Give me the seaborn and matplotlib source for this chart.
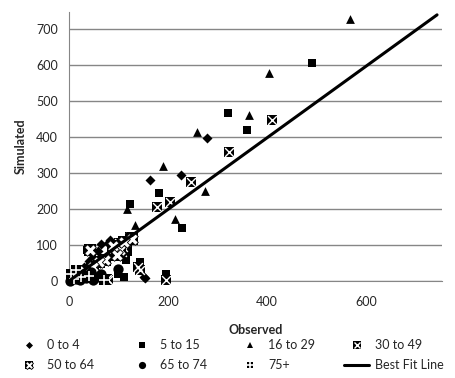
import numpy as np
import pandas as pd
import matplotlib
matplotlib.use("Agg")
import matplotlib.pyplot as plt
import seaborn as sns
from matplotlib.lines import Line2D

# observed vs simulated, by age group
obs_0_4 = [164, 226, 278, 65, 79, 83, 152, 154, 48, 58, 30, 18, 8, 92, 40]
sim_0_4 = [280, 294, 398, 102, 106, 114, 12, 8, 68, 84, 38, 22, 6, 92, 55]

obs_5_15 = [182, 123, 228, 321, 360, 490, 119, 143, 195, 111, 115, 120, 116, 36, 42, 70, 25, 98]
sim_5_15 = [245, 213, 148, 466, 419, 606, 88, 52, 19, 12, 63, 81, 58, 86, 48, 60, 15, 20]

obs_16_29 = [568, 403, 364, 258, 190, 274, 118, 215, 133, 4, 55]
sim_16_29 = [728, 577, 461, 415, 320, 251, 199, 171, 156, 14, 45]

obs_30_49 = [246, 324, 409, 177, 204, 140, 195, 76, 123, 113, 100, 106, 42, 143, 79, 62, 90, 30, 55, 110]
sim_30_49 = [275, 359, 447, 205, 219, 38, 3, 5, 123, 109, 105, 81, 86, 31, 3, 60, 70, 30, 45, 95]

obs_50_64 = [103, 127, 73, 42, 88, 60, 30, 96, 112, 20, 48]
sim_50_64 = [86, 118, 58, 86, 98, 52, 28, 72, 108, 14, 40]

obs_65_74 = [98, 2, 22, 49, 56, 35, 15, 65, 45, 28, 10, 40]
sim_65_74 = [32, 0, 3, 3, 12, 8, 5, 20, 25, 20, 10, 14]

obs_75 = [10, 25, 5, 40, 70, 15]
sim_75 = [5, 10, 20, 15, 2, 30]

fit_x = [0, 743]
fit_y = [0, 739]

labels = ["0 to 4", "5 to 15", "16 to 29", "30 to 49", "50 to 64", "65 to 74", "75+"]

sns.set_style("white")
plt.rcParams['font.family'] = ['Lato', 'DejaVu Sans']
plt.rcParams['font.size'] = 9

fig, ax = plt.subplots(figsize=(4.56, 3.78), dpi=100)
fig.subplots_adjust(left=0.1513, right=0.9693, top=0.9683, bottom=0.2566)

# marker recipes: list of (marker, size, facecolor, edgecolor, lw)
styles = {
    "0 to 4": [("D", 26, "black", "black", 0)],
    "5 to 15": [("s", 40, "black", "black", 0)],
    "16 to 29": [("^", 40, "black", "black", 0)],
    "30 to 49": [("s", 55, "black", "black", 0), ("x", 40, "white", "white", 1.0)],
    "50 to 64": [("s", 70, "black", "black", 0), ("X", 70, "white", "black", 0.6)],
    "65 to 74": [("o", 55, "black", "black", 0)],
    "75+": [("s", 45, "black", "black", 0), ("+", 60, "white", "white", 1.2)],
}
series = {
    "0 to 4": (obs_0_4, sim_0_4),
    "5 to 15": (obs_5_15, sim_5_15),
    "16 to 29": (obs_16_29, sim_16_29),
    "30 to 49": (obs_30_49, sim_30_49),
    "50 to 64": (obs_50_64, sim_50_64),
    "65 to 74": (obs_65_74, sim_65_74),
    "75+": (obs_75, sim_75),
}

handles = {}
for name in labels:
    obs, sim = series[name]
    df = pd.DataFrame({"Observed": obs, "Simulated": sim})
    parts = []
    for mk, sz, fc, ec, lw in styles[name]:
        sns.scatterplot(data=df, x="Observed", y="Simulated", ax=ax, marker=mk, s=sz,
                        color=fc, edgecolor=ec, linewidth=lw, clip_on=False, zorder=3)
        parts.append(Line2D([], [], ls="none", marker=mk, markersize=np.sqrt(sz) * 0.7,
                            markerfacecolor=fc, markeredgecolor=ec, markeredgewidth=lw))
    handles[name] = tuple(parts) if len(parts) > 1 else parts[0]

sns.lineplot(x=fit_x, y=fit_y, ax=ax, color="black", lw=2.2, zorder=4)
handles["Best Fit Line"] = Line2D([], [], color="black", lw=2.2)

ax.set_xlim(0, 753)
ax.set_ylim(0, 747)
ax.set_xticks([0, 200, 400, 600])
ax.set_yticks(range(0, 800, 100))
ax.yaxis.grid(True, color="#868686", lw=1)
ax.xaxis.grid(False)
ax.set_axisbelow(True)
for s in ["top", "right"]:
    ax.spines[s].set_visible(False)
for s in ["left", "bottom"]:
    ax.spines[s].set_color("#868686")
ax.tick_params(axis="both", length=3, color="#868686", direction="out", pad=5, labelsize=9)
ax.tick_params(axis="x", pad=8)
ax.set_xlabel("Observed", fontweight="bold", fontsize=9, labelpad=11)
ax.set_ylabel("Simulated", fontweight="bold", fontsize=9, labelpad=7)

# one small legend per column, so the columns sit where Excel put them
columns = [["0 to 4", "50 to 64"], ["5 to 15", "65 to 74"],
           ["16 to 29", "75+"], ["30 to 49", "Best Fit Line"]]
col_x = [0.036, 0.284, 0.521, 0.755]
for names, cx in zip(columns, col_x):
    leg = fig.legend([handles[k] for k in names], names, loc="upper left",
                     bbox_to_anchor=(cx, 0.102), frameon=False, fontsize=9,
                     handlelength=2.0, handletextpad=0.45, labelspacing=0.6,
                     borderpad=0, borderaxespad=0)

fig.savefig("out.png", dpi=100)
